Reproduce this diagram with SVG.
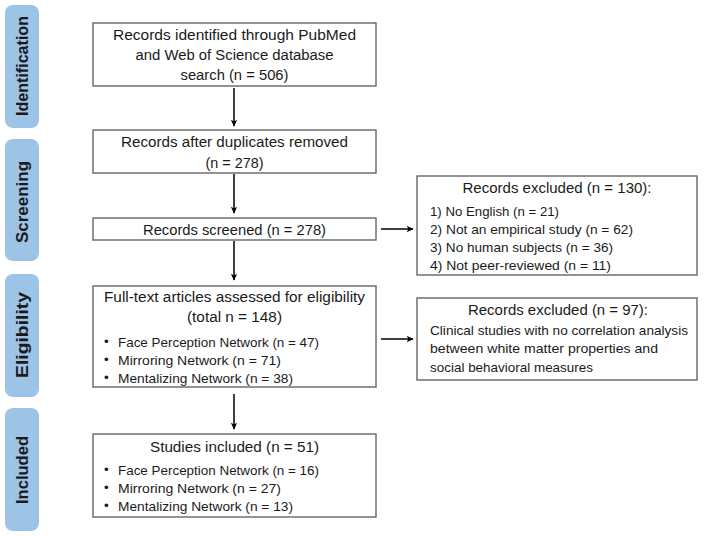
<svg xmlns="http://www.w3.org/2000/svg" width="706" height="536" viewBox="0 0 706 536">
<defs>
<marker id="ah" viewBox="0 0 10 10" refX="9" refY="5" markerWidth="8" markerHeight="7" orient="auto" markerUnits="userSpaceOnUse">
<path d="M0,0.5 L10,5 L0,9.5 L2.5,5 Z" fill="#000"/>
</marker>
<style>
.tab{fill:#9dc3e6}
.tabt{font-family:"Liberation Sans",Arial,sans-serif;font-weight:bold;font-size:17px;fill:#1a1a1a;text-anchor:middle;dominant-baseline:central}
.box{fill:#fff;stroke:#666;stroke-width:1.4}
.t{font-family:"Liberation Sans",Arial,sans-serif;font-size:15.5px;fill:#1a1a1a}
.s{font-family:"Liberation Sans",Arial,sans-serif;font-size:13.5px;fill:#1a1a1a}
.c{text-anchor:middle}
.arr{stroke:#000;stroke-width:1.5;fill:none;marker-end:url(#ah)}
</style>
</defs>
<rect width="706" height="536" fill="#fff"/>
<g id="tab-identification"><rect class="tab" x="5" y="5" width="34" height="123" rx="8"/><text class="tabt" transform="translate(22,66) rotate(-90)" textLength="100" lengthAdjust="spacingAndGlyphs">Identification</text></g>
<g id="tab-screening"><rect class="tab" x="5" y="139" width="34" height="122" rx="8"/><text class="tabt" transform="translate(22,202) rotate(-90)" textLength="82" lengthAdjust="spacingAndGlyphs">Screening</text></g>
<g id="tab-eligibility"><rect class="tab" x="5" y="274" width="34" height="123" rx="8"/><text class="tabt" transform="translate(22,335) rotate(-90)" textLength="86" lengthAdjust="spacingAndGlyphs">Eligibility</text></g>
<g id="tab-included"><rect class="tab" x="5" y="408" width="34" height="123" rx="8"/><text class="tabt" transform="translate(22,470) rotate(-90)" textLength="68" lengthAdjust="spacingAndGlyphs">Included</text></g>

<g id="connectors">
<line class="arr" x1="234" y1="88" x2="234" y2="126"/>
<line class="arr" x1="234" y1="174" x2="234" y2="213"/>
<line class="arr" x1="234" y1="241" x2="234" y2="280"/>
<line class="arr" x1="234" y1="394" x2="234" y2="429"/>
<line class="arr" x1="381" y1="229" x2="413" y2="229"/>
<line class="arr" x1="381" y1="339" x2="413" y2="339"/>
</g>

<g id="n-identified"><rect class="box" x="93" y="23" width="283" height="63"/>
<text class="t c" x="234.5" y="40" textLength="243" lengthAdjust="spacingAndGlyphs">Records identified through PubMed</text>
<text class="t c" x="234.5" y="60" textLength="198" lengthAdjust="spacingAndGlyphs">and Web of Science database</text>
<text class="t c" x="234.5" y="80" textLength="108" lengthAdjust="spacingAndGlyphs">search (n = 506)</text></g>

<g id="n-duplicates"><rect class="box" x="93" y="130" width="283" height="43"/>
<text class="t c" x="234.5" y="147" textLength="227" lengthAdjust="spacingAndGlyphs">Records after duplicates removed</text>
<text class="t c" x="234.5" y="168" textLength="58" lengthAdjust="spacingAndGlyphs">(n = 278)</text></g>

<g id="n-screened"><rect class="box" x="93" y="218" width="283" height="22"/>
<text class="t c" x="234.5" y="235" textLength="183" lengthAdjust="spacingAndGlyphs">Records screened (n = 278)</text></g>

<g id="n-fulltext"><rect class="box" x="93" y="286" width="283" height="101"/>
<text class="t c" x="234.5" y="302" textLength="261" lengthAdjust="spacingAndGlyphs">Full-text articles assessed for eligibility</text>
<text class="t c" x="234.5" y="322" textLength="95" lengthAdjust="spacingAndGlyphs">(total n = 148)</text>
<text class="s" x="104" y="346">•</text><text class="s" x="118" y="347" textLength="201" lengthAdjust="spacingAndGlyphs">Face Perception Network (n = 47)</text>
<text class="s" x="104" y="364">•</text><text class="s" x="118" y="365" textLength="163" lengthAdjust="spacingAndGlyphs">Mirroring Network (n = 71)</text>
<text class="s" x="104" y="382">•</text><text class="s" x="118" y="383" textLength="175" lengthAdjust="spacingAndGlyphs">Mentalizing Network (n = 38)</text></g>

<g id="n-included"><rect class="box" x="93" y="434" width="283" height="83"/>
<text class="t c" x="234.5" y="452" textLength="169" lengthAdjust="spacingAndGlyphs">Studies included (n = 51)</text>
<text class="s" x="104" y="474">•</text><text class="s" x="118" y="475" textLength="201" lengthAdjust="spacingAndGlyphs">Face Perception Network (n = 16)</text>
<text class="s" x="104" y="492">•</text><text class="s" x="118" y="493" textLength="163" lengthAdjust="spacingAndGlyphs">Mirroring Network (n = 27)</text>
<text class="s" x="104" y="510">•</text><text class="s" x="118" y="511" textLength="175" lengthAdjust="spacingAndGlyphs">Mentalizing Network (n = 13)</text></g>

<g id="n-excluded1"><rect class="box" x="417" y="176" width="280" height="99"/>
<text class="t c" x="557" y="193" textLength="189" lengthAdjust="spacingAndGlyphs">Records excluded (n = 130):</text>
<text class="s" x="430" y="216" textLength="129" lengthAdjust="spacingAndGlyphs">1) No English (n = 21)</text>
<text class="s" x="430" y="234" textLength="203" lengthAdjust="spacingAndGlyphs">2) Not an empirical study (n = 62)</text>
<text class="s" x="430" y="252" textLength="183" lengthAdjust="spacingAndGlyphs">3) No human subjects (n = 36)</text>
<text class="s" x="430" y="270" textLength="181" lengthAdjust="spacingAndGlyphs">4) Not peer-reviewed (n = 11)</text></g>

<g id="n-excluded2"><rect class="box" x="417" y="298" width="280" height="82"/>
<text class="t c" x="558" y="315" textLength="180" lengthAdjust="spacingAndGlyphs">Records excluded (n = 97):</text>
<text class="s" x="430" y="335" textLength="258" lengthAdjust="spacingAndGlyphs">Clinical studies with no correlation analysis</text>
<text class="s" x="430" y="353" textLength="228" lengthAdjust="spacingAndGlyphs">between white matter properties and</text>
<text class="s" x="430" y="372" textLength="163" lengthAdjust="spacingAndGlyphs">social behavioral measures</text></g>
</svg>
